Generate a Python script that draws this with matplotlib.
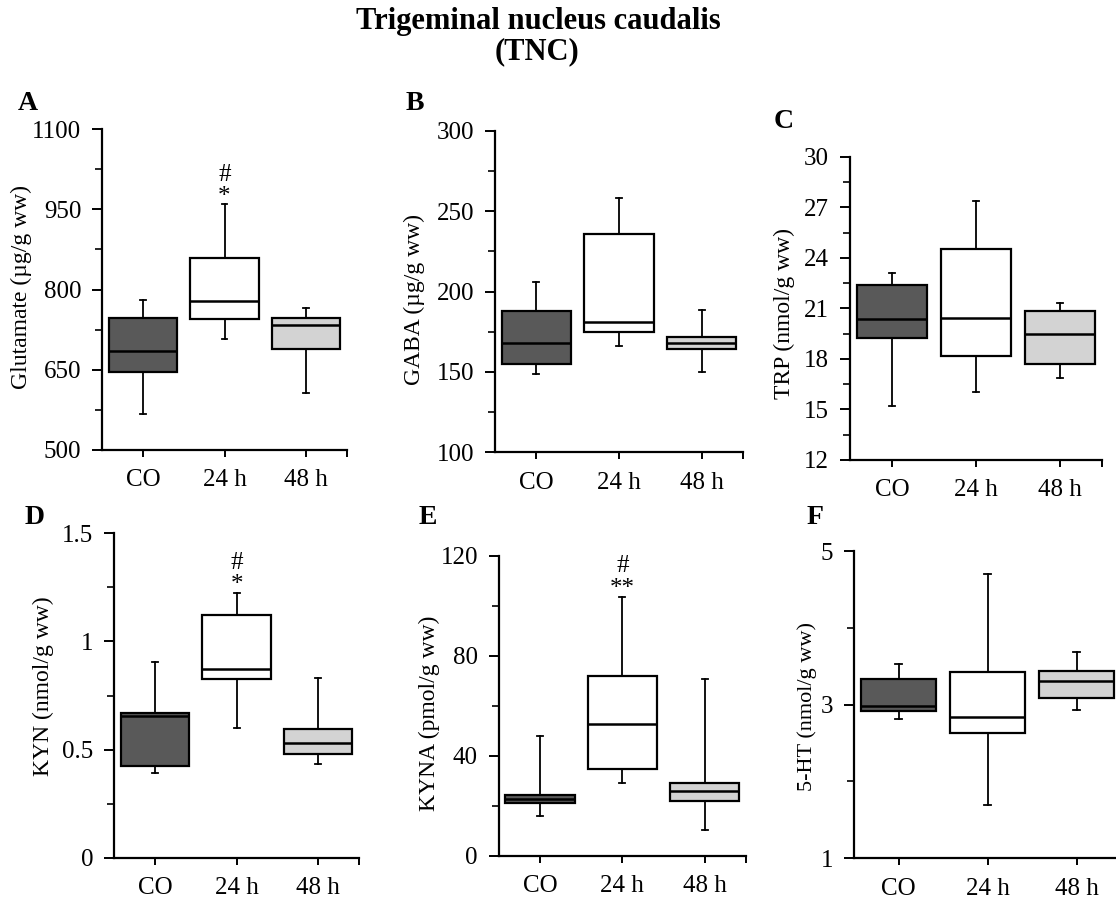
import matplotlib
matplotlib.use("Agg")
import matplotlib.pyplot as plt
from matplotlib.ticker import FixedLocator

plt.rcParams['font.family'] = ['Liberation Serif', 'DejaVu Serif']

groups = ["CO", "24 h", "48 h"]
box_colors = ["#595959", "#ffffff", "#d3d3d3"]

# Panel A: Glutamate (µg/g ww)
glu_low = [567, 707, 607]
glu_q1 = [645, 744, 688]
glu_med = [685, 778, 733]
glu_q3 = [746, 859, 746]
glu_high = [780, 959, 765]

# Panel B: GABA (µg/g ww)
gaba_low = [149, 166, 150]
gaba_q1 = [155, 175, 164.5]
gaba_med = [168, 181, 168]
gaba_q3 = [188, 235.5, 171.5]
gaba_high = [206, 258, 188.5]

# Panel C: TRP (nmol/g ww)
trp_low = [15.2, 16.05, 16.85]
trp_q1 = [19.25, 18.2, 17.7]
trp_med = [20.35, 20.4, 19.45]
trp_q3 = [22.4, 24.5, 20.85]
trp_high = [23.1, 27.35, 21.3]

# Panel D: KYN (nmol/g ww)
kyn_low = [0.39, 0.60, 0.435]
kyn_q1 = [0.425, 0.826, 0.478]
kyn_med = [0.655, 0.874, 0.53]
kyn_q3 = [0.671, 1.121, 0.597]
kyn_high = [0.905, 1.222, 0.829]

# Panel E: KYNA (pmol/g ww)
kyna_low = [16.0, 29.0, 10.4]
kyna_q1 = [21.1, 34.5, 21.9]
kyna_med = [22.8, 52.5, 25.7]
kyna_q3 = [24.3, 72.0, 29.0]
kyna_high = [47.9, 103.5, 70.7]

# Panel F: 5-HT (nmol/g ww)
sht_low = [2.81, 1.70, 2.935]
sht_q1 = [2.913, 2.627, 3.087]
sht_med = [2.987, 2.84, 3.312]
sht_q3 = [3.33, 3.425, 3.438]
sht_high = [3.533, 4.705, 3.685]

fig = plt.figure(figsize=(11.16, 8.99), dpi=100)

def px_axes(x0, x1, ytop, ybot):
    W, H = 1116, 899
    return fig.add_axes([x0 / W, 1 - ybot / H, (x1 - x0) / W, (ybot - ytop) / H])

panels = [
    dict(rect=(102, 347, 129, 450), low=glu_low, q1=glu_q1, med=glu_med, q3=glu_q3, high=glu_high,
         ylim=(500, 1100), major=[500, 650, 800, 950, 1100], minor=[575, 725, 875, 1025],
         labels=["500", "650", "800", "950", "1100"],
         ylabel="Glutamate (µg/g ww)", lab_xy=(-0.327, 0.508), lab_fs=17,
         letter="A", letter_xy=(28, 103)),
    dict(rect=(495, 743, 130.7, 452.3), low=gaba_low, q1=gaba_q1, med=gaba_med, q3=gaba_q3, high=gaba_high,
         ylim=(100, 300), major=[100, 150, 200, 250, 300], minor=[125, 175, 225, 275],
         labels=["100", "150", "200", "250", "300"],
         ylabel="GABA (µg/g ww)", lab_xy=(-0.323, 0.474), lab_fs=17,
         letter="B", letter_xy=(415, 103)),
    dict(rect=(850, 1102, 156.7, 460), low=trp_low, q1=trp_q1, med=trp_med, q3=trp_q3, high=trp_high,
         ylim=(12, 30), major=[12, 15, 18, 21, 24, 27, 30], minor=[13.5, 16.5, 19.5, 22.5, 25.5, 28.5],
         labels=["12", "15", "18", "21", "24", "27", "30"],
         ylabel="TRP (nmol/g ww)", lab_xy=(-0.262, 0.484), lab_fs=17,
         letter="C", letter_xy=(784, 122)),
    dict(rect=(114.3, 359, 533.3, 857.7), low=kyn_low, q1=kyn_q1, med=kyn_med, q3=kyn_q3, high=kyn_high,
         ylim=(0, 1.5), major=[0, 0.5, 1, 1.5], minor=[0.25, 0.75, 1.25],
         labels=["0", "0.5", "1", "1.5"],
         ylabel="KYN (nmol/g ww)", lab_xy=(-0.291, 0.53), lab_fs=17,
         letter="D", letter_xy=(35, 517)),
    dict(rect=(498.7, 746, 555.7, 855.7), low=kyna_low, q1=kyna_q1, med=kyna_med, q3=kyna_q3, high=kyna_high,
         ylim=(0, 120), major=[0, 40, 80, 120], minor=[20, 60, 100],
         labels=["0", "40", "80", "120"],
         ylabel="KYNA (pmol/g ww)", lab_xy=(-0.28, 0.475), lab_fs=17,
         letter="E", letter_xy=(428, 518)),
    dict(rect=(854, 1121, 551, 858.3), low=sht_low, q1=sht_q1, med=sht_med, q3=sht_q3, high=sht_high,
         ylim=(1, 5), major=[1, 3, 5], minor=[2, 4],
         labels=["1", "3", "5"],
         ylabel="5-HT (nmol/g ww)", lab_xy=(-0.175, 0.493), lab_fs=16,
         letter="F", letter_xy=(815, 517)),
]

axes = []
for p in panels:
    ax = px_axes(*p["rect"])
    axes.append(ax)
    stats = []
    for i, g in enumerate(groups):
        stats.append(dict(label=g, whislo=p["low"][i], q1=p["q1"][i], med=p["med"][i],
                          q3=p["q3"][i], whishi=p["high"][i], fliers=[]))
    bp = ax.bxp(stats, positions=[1, 2, 3], widths=0.84, capwidths=0.07,
                patch_artist=True, showfliers=False,
                boxprops=dict(edgecolor="black", linewidth=1.6),
                medianprops=dict(color="black", linewidth=1.8),
                whiskerprops=dict(color="black", linewidth=1.3),
                capprops=dict(color="black", linewidth=1.3))
    for patch, c in zip(bp["boxes"], box_colors):
        patch.set_facecolor(c)
    ax.set_xlim(0.5, 3.5)
    ax.set_ylim(*p["ylim"])
    ax.yaxis.set_major_locator(FixedLocator(p["major"]))
    ax.yaxis.set_minor_locator(FixedLocator(p["minor"]))
    ax.set_yticklabels(p["labels"])
    ax.set_xticks([1, 2, 3])
    ax.set_xticklabels(groups)
    ax.xaxis.set_minor_locator(FixedLocator([3.5]))
    for s in ["top", "right"]:
        ax.spines[s].set_visible(False)
    for s in ["left", "bottom"]:
        ax.spines[s].set_linewidth(1.6)
        ax.spines[s].set_clip_on(False)
    ax.tick_params(axis="y", which="major", direction="out", length=7, width=1.4,
                   labelsize=18, pad=8)
    ax.tick_params(axis="y", which="minor", direction="out", length=5, width=1.2)
    ax.tick_params(axis="x", which="both", direction="out", length=5, width=1.4,
                   labelsize=18, pad=9)
    ax.set_ylabel(p["ylabel"], fontsize=p["lab_fs"], va="center")
    ax.yaxis.set_label_coords(*p["lab_xy"])
    fig.text(p["letter_xy"][0] / 1116, 1 - p["letter_xy"][1] / 899, p["letter"],
             fontsize=20, fontweight="bold", ha="center", va="center")

# significance marks
def mark(ax, x, y, s):
    ax.annotate(s, xy=(x, y), xycoords="data", ha="center", va="center", fontsize=18,
                annotation_clip=False)

mark(axes[0], 2, 1100 - (175 - 129) * 600 / 321, "#")
mark(axes[0], 2, 1100 - (197 - 129) * 600 / 321, "*")
mark(axes[3], 2, 1.5 - (563 - 533.3) * 1.5 / 324.4, "#")
mark(axes[3], 2, 1.5 - (585 - 533.3) * 1.5 / 324.4, "*")
mark(axes[4], 2, 120 - (566 - 555.7) * 120 / 300, "#")
mark(axes[4], 2, 120 - (589 - 555.7) * 120 / 300, "**")

fig.text(538 / 1116, 1 - 22 / 899, "Trigeminal nucleus caudalis", fontsize=22,
         fontweight="bold", ha="center", va="center")
fig.text(537 / 1116, 1 - 52 / 899, "(TNC)", fontsize=22,
         fontweight="bold", ha="center", va="center")

fig.savefig("out.png", dpi=100)
